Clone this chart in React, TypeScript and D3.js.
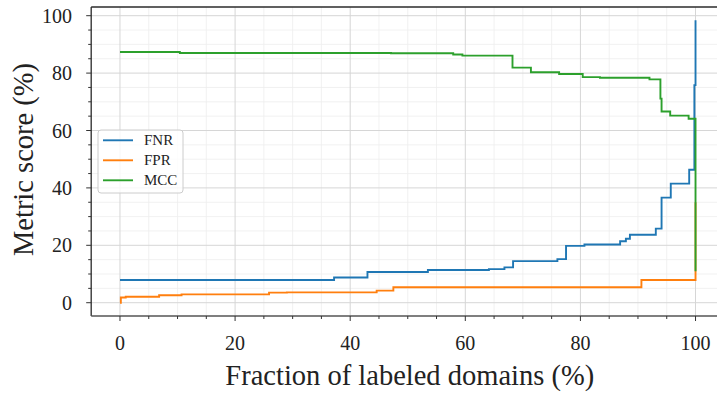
import React from "react";
import * as d3 from "d3";

// Step data: value holds from x[i] until x[i+1]
const fnrX = [0, 37.2, 43.0, 53.5, 64.1, 66.8, 68.3, 76.0, 77.5, 80.7, 86.9, 87.9, 88.6, 93.1, 94.1, 95.7, 98.9, 99.8, 100];
const fnrY = [7.9, 8.8, 10.7, 11.4, 11.7, 12.3, 14.5, 15.2, 19.8, 20.3, 21.4, 22.3, 23.7, 25.8, 36.6, 41.5, 46.3, 75.8, 98.4];

const fprX = [0, 0.15, 1.0, 6.8, 10.7, 25.9, 29.0, 44.6, 47.5, 90.6, 100];
const fprY = [0, 1.8, 2.1, 2.6, 2.9, 3.5, 3.6, 4.2, 5.4, 7.9, 35];

const mccX = [0, 10.4, 47.1, 57.9, 59.5, 68.2, 71.4, 76.3, 80.4, 83.4, 92.0, 93.9, 94.1, 95.6, 98.8, 100];
const mccY = [87.35, 87.0, 86.9, 86.5, 86.1, 81.9, 80.3, 79.7, 78.6, 78.4, 77.8, 71.1, 66.6, 65.2, 64.1, 11];

const seriesNames = ["FNR", "FPR", "MCC"];
const seriesColors = ["#1f77b4", "#ff7f0e", "#2ca02c"];

const xMajorTicks = [0, 20, 40, 60, 80, 100];
const yMajorTicks = [0, 20, 40, 60, 80, 100];

const W = 717;
const H = 394;
const FONT = '"Liberation Serif", "DejaVu Serif", "Noto Serif", serif';

export default function App() {
  const x = d3.scaleLinear().domain([-5, 105]).range([91.2, 724.3]);
  const y = d3.scaleLinear().domain([-4.63, 103.03]).range([316, 7]);

  const xMinor = d3.range(-5, 106, 5).filter((v) => !xMajorTicks.includes(v));
  const yMinor = d3.range(-0, 105, 5).filter((v) => !yMajorTicks.includes(v));

  const line = d3
    .line<[number, number]>()
    .x((d) => x(d[0]))
    .y((d) => y(d[1]))
    .curve(d3.curveStepAfter);

  const series: [number, number][][] = [
    fnrX.map((v, i) => [v, fnrY[i]] as [number, number]),
    fprX.map((v, i) => [v, fprY[i]] as [number, number]),
    mccX.map((v, i) => [v, mccY[i]] as [number, number]),
  ];

  const [x0, x1] = x.range();
  const [yb, yt] = y.range();

  return (
    <svg
      width={W}
      height={H}
      style={{ position: "absolute", left: 0, top: 0, background: "#fff", fontFamily: FONT }}
    >
      <defs>
        <clipPath id="plot">
          <rect x={x0} y={yt} width={x1 - x0} height={yb - yt} />
        </clipPath>
      </defs>
      {/* minor grid */}
      <g stroke="#ededed" strokeWidth={0.8}>
        {xMinor.map((v) => (
          <line key={"xm" + v} x1={x(v)} x2={x(v)} y1={yt} y2={yb} />
        ))}
        {yMinor.map((v) => (
          <line key={"ym" + v} x1={x0} x2={x1} y1={y(v)} y2={y(v)} />
        ))}
      </g>
      {/* major grid */}
      <g stroke="#d6d6d6" strokeWidth={1}>
        {xMajorTicks.map((v) => (
          <line key={"xg" + v} x1={x(v)} x2={x(v)} y1={yt} y2={yb} />
        ))}
        {yMajorTicks.map((v) => (
          <line key={"yg" + v} x1={x0} x2={x1} y1={y(v)} y2={y(v)} />
        ))}
      </g>
      {/* data */}
      <g clipPath="url(#plot)" fill="none" strokeWidth={1.9}>
        {series.map((s, i) => (
          <path key={seriesNames[i]} d={line(s) || ""} stroke={seriesColors[i]} />
        ))}
      </g>
      {/* spines */}
      <g stroke="#2b2b2b" strokeWidth={1.3}>
        <line x1={x0} x2={x1} y1={yt} y2={yt} />
        <line x1={x0} x2={x0} y1={yt} y2={yb} />
        <line x1={x0} x2={x1} y1={yb} y2={yb} stroke="#555" />
      </g>
      {/* ticks */}
      <g stroke="#333" strokeWidth={1}>
        {xMajorTicks.map((v) => (
          <line key={"xt" + v} x1={x(v)} x2={x(v)} y1={yb} y2={yb + 5} />
        ))}
        {xMinor.filter((v) => x(v) > x0 + 1).map((v) => (
          <line key={"xmt" + v} x1={x(v)} x2={x(v)} y1={yb} y2={yb + 3} />
        ))}
        {yMajorTicks.map((v) => (
          <line key={"yt" + v} x1={x0 - 5} x2={x0} y1={y(v)} y2={y(v)} />
        ))}
        {yMinor.map((v) => (
          <line key={"ymt" + v} x1={x0 - 3} x2={x0} y1={y(v)} y2={y(v)} />
        ))}
      </g>
      {/* tick labels */}
      <g fontSize={20} fill="#222" style={{ fontFamily: FONT }}>
        {xMajorTicks.map((v) => (
          <text key={"xl" + v} x={x(v)} y={350} textAnchor="middle">
            {v}
          </text>
        ))}
        {yMajorTicks.map((v) => (
          <text key={"yl" + v} x={72} y={y(v) + 7} textAnchor="end">
            {v}
          </text>
        ))}
      </g>
      {/* axis labels */}
      <text x={(x0 + x1) / 2 + 2} y={385} textAnchor="middle" fontSize={28.5} fill="#222" style={{ fontFamily: FONT }}>
        Fraction of labeled domains (%)
      </text>
      <text
        transform={`translate(33, ${(yt + yb) / 2 - 2}) rotate(-90)`}
        textAnchor="middle"
        fontSize={28.5}
        fill="#222"
        style={{ fontFamily: FONT }}
      >
        Metric score (%)
      </text>
      {/* legend */}
      <g>
        <rect x={98} y={130} width={85} height={63} rx={3} fill="#fff" fillOpacity={0.8} stroke="#cccccc" strokeWidth={1} />
        {seriesNames.map((n, i) => (
          <g key={"lg" + n}>
            <line x1={103} x2={133} y1={140.3 + i * 20} y2={140.3 + i * 20} stroke={seriesColors[i]} strokeWidth={1.9} />
            <text x={144} y={140.3 + i * 20 + 5} fontSize={15} fill="#222" style={{ fontFamily: FONT }}>
              {n}
            </text>
          </g>
        ))}
      </g>
    </svg>
  );
}
